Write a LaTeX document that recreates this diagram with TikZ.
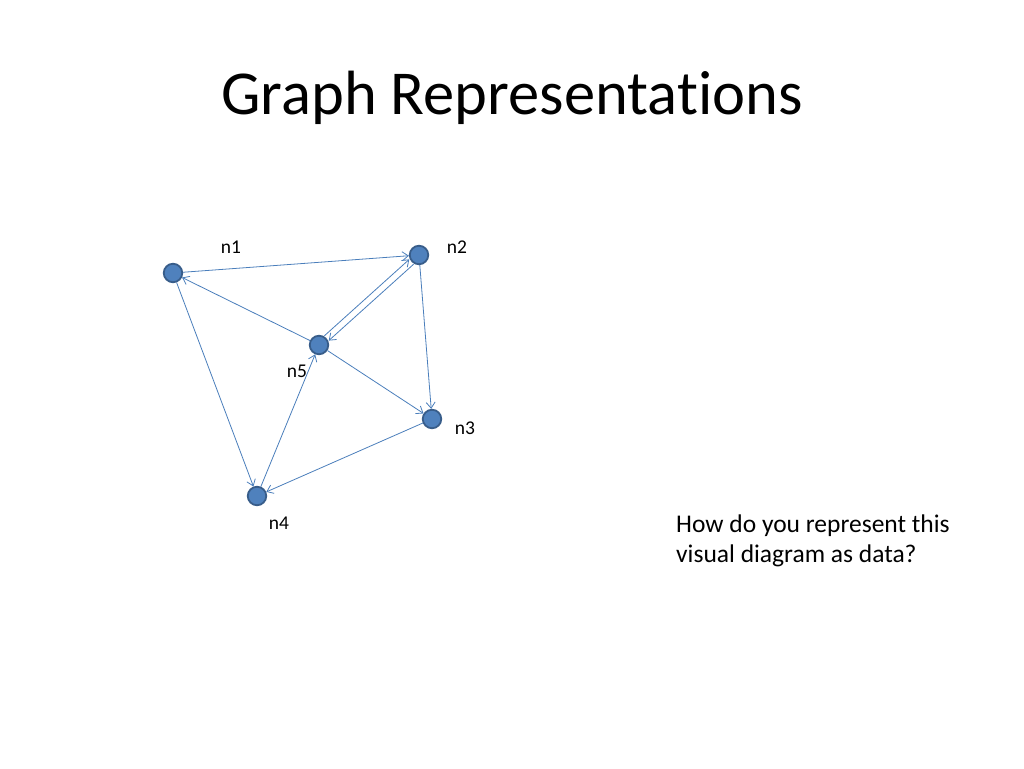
\documentclass[tikz,border=0pt]{standalone}
\usepackage{fontspec}
\setmainfont{Carlito}[Ligatures={NoCommon}]
\usetikzlibrary{arrows.meta}
\definecolor{nodefill}{HTML}{4F81BD}
\definecolor{nodeborder}{HTML}{385D8A}
\definecolor{edgecol}{HTML}{4A7EBB}
\begin{document}
\begin{tikzpicture}[x=1pt,y=1pt,
  vert/.style={circle,fill=nodefill,draw=nodeborder,line width=1.8pt,minimum size=18.5pt,inner sep=0pt},
  lbl/.style={font=\fontsize{19.5}{22}\selectfont,text=black},
  edge/.style={draw=edgecol,line width=0.8pt,-{Straight Barb[length=6pt,width=9pt,line width=0.8pt]}}]
\useasboundingbox (0,0) rectangle (1024,768);
\node[font=\fontsize{62.5}{70}\selectfont] (title) at (512,670) {Graph Representations};
\node (n1) [vert] at (173,495) {};
\node (n2) [vert] at (419,513) {};
\node (n5) [vert] at (319,423) {};
\node (n3) [vert] at (432,349) {};
\node (n4) [vert] at (257,272) {};
\node[lbl] (l1) at (231,521) {n1};
\node[lbl] (l2) at (457,521) {n2};
\node[lbl] (l5) at (297,397) {n5};
\node[lbl] (l3) at (465,340) {n3};
\node[lbl] (l4) at (279,245) {n4};
\node[font=\fontsize{25.5}{30}\selectfont,align=left,anchor=north west,inner sep=0pt] (q) at (676,253) {How do you represent this\\visual diagram as data?};
\draw[edge] (n1) -- (n2);
\draw[edge] (n5) -- (n1);
\draw[edge] ([shift={(-2.2pt,2.4pt)}]n5.42) -- ([shift={(-2.2pt,2.4pt)}]n2.222);
\draw[edge] ([shift={(2.2pt,-2.4pt)}]n2.222) -- ([shift={(2.2pt,-2.4pt)}]n5.42);
\draw[edge] (n2) -- (n3);
\draw[edge] (n5) -- (n3);
\draw[edge] (n3) -- (n4);
\draw[edge] (n1) -- (n4);
\draw[edge] (n4) -- (n5);
\end{tikzpicture}
\end{document}
